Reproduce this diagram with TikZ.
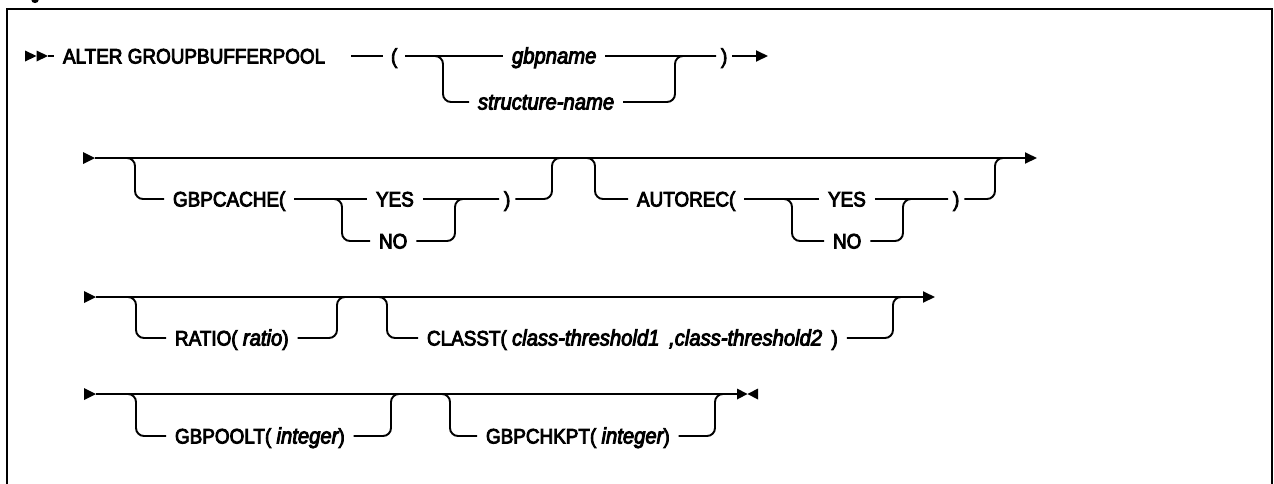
\documentclass[tikz,border=0pt]{standalone}
\usepackage{fontspec}
\setmainfont{Liberation Sans}
\newfontfamily\railfont[FakeBold=4,FakeStretch=0.9]{Liberation Sans}
\usetikzlibrary{arrows.meta}
\newcommand\itf{\fontsize{22.5}{24}\selectfont\itshape}
\begin{document}
\begin{tikzpicture}[x=1pt,y=-1pt,
  rail/.style={line width=1.9pt},
  branch/.style={rail, rounded corners=8pt},
  tip/.style={rail,-{Triangle[length=12pt,width=11pt]}},
  kw/.style={anchor=text, inner xsep=9pt, inner ysep=0pt, outer sep=0pt,
    text height=15pt, text depth=0pt, font=\railfont\fontsize{21}{23}\selectfont},
  it/.style={kw, font=\railfont\itf},
  paren/.style={kw, inner xsep=5pt},
  railmark/.style={fill=black}
]
\useasboundingbox (0,0) rectangle (1274,483);
% frame
\draw[line width=2.5pt] (7,495) -- (7,9) -- (1272,9) -- (1272,495);
\fill (35,0.5) ellipse (3.5 and 2.5);

% ---------- row 1 ----------
\fill[railmark] (25,50.5) -- (36.5,56) -- (25,61.5) -- cycle;
\fill[railmark] (36.5,50.5) -- (48,56) -- (36.5,61.5) -- cycle;
\coordinate (s1) at (48,56);
\node[kw] (alter) at (63,63.5) {ALTER GROUPBUFFERPOOL};
\node[kw, inner xsep=8pt] (lp) at (391,63.5) {(};
\node[it] (gbp) at (512,63.5) {gbpname};
\node[it] (sn) at (478,109.5) {structure-name};
\node[paren] (rp) at (721,63.5) {)};
\coordinate (e1) at (768,56);
\draw[rail] (s1) -- (alter.west);
\draw[rail] ([xshift=17pt]alter.east) -- (lp.west);
\draw[rail] (lp.east) -- (gbp.west);
\draw[branch] (lp.east) -- (443,56) -- (443,102) -- (sn.west);
\draw[rail] (gbp.east) -- (rp.west);
\draw[branch] (sn.east) -- (675,102) -- (675,56) -- (rp.west);
\draw[tip] (rp.east) -- (e1);

% ---------- row 2 ----------
\fill[railmark] (83,152) -- (95,158) -- (83,164) -- cycle;
\coordinate (s2) at (95,158);
\coordinate (e2) at (1037,158);
\draw[tip] (s2) -- (e2);
\node[kw] (gc) at (173,206.5) {GBPCACHE(};
\node[kw] (y1) at (376,206.5) {YES};
\node[kw] (n1) at (379,248.5) {NO};
\node[paren] (c1) at (504,206.5) {)};
\draw[branch] (127,158) -- (135,158) -- (135,199) -- (gc.west);
\draw[rail] (gc.east) -- (y1.west);
\draw[branch] (gc.east) -- (342,199) -- (342,241) -- (n1.west);
\draw[rail] (y1.east) -- (c1.west);
\draw[branch] (n1.east) -- (455,241) -- (455,199) -- (c1.west);
\draw[branch] (c1.east) -- (552,199) -- (552,158) -- (560,158);

\node[kw] (ar) at (637,206.5) {AUTOREC(};
\node[kw] (y2) at (828,206.5) {YES};
\node[kw] (n2) at (833,248.5) {NO};
\node[paren] (c2) at (953,206.5) {)};
\draw[branch] (587,158) -- (595,158) -- (595,199) -- (ar.west);
\draw[rail] (ar.east) -- (y2.west);
\draw[branch] (ar.east) -- (792,199) -- (792,241) -- (n2.west);
\draw[rail] (y2.east) -- (c2.west);
\draw[branch] (n2.east) -- (903,241) -- (903,199) -- (c2.west);
\draw[branch] (c2.east) -- (995,199) -- (995,158) -- (1003,158);

% ---------- row 3 ----------
\fill[railmark] (84,291) -- (96,297) -- (84,303) -- cycle;
\coordinate (s3) at (96,297);
\coordinate (e3) at (935,297);
\draw[tip] (s3) -- (e3);
\node[kw] (ra) at (175,345.5) {RATIO( {\itf ratio})};
\node[kw] (cl) at (427,345.5) {CLASST( {\itf class-threshold1\hspace{4pt} ,class-threshold2}\hspace{4pt} )};
\draw[branch] (128,297) -- (136,297) -- (136,338) -- (ra.west);
\draw[branch] (ra.east) -- (337,338) -- (337,297) -- (345,297);
\draw[branch] (379,297) -- (387,297) -- (387,338) -- (cl.west);
\draw[branch] (cl.east) -- (893,338) -- (893,297) -- (901,297);

% ---------- row 4 ----------
\fill[railmark] (84,388) -- (96,394) -- (84,400) -- cycle;
\coordinate (s4) at (96,394);
\coordinate (e4) at (737,394);
\draw[rail] (s4) -- (e4);
\fill[railmark] (737,388.5) -- (747.5,394) -- (737,399.5) -- cycle;
\fill[railmark] (758,388.5) -- (747.5,394) -- (758,399.5) -- cycle;
\node[kw] (gp) at (175,443.5) {GBPOOLT( {\itf integer})};
\node[kw] (gk) at (486,443.5) {GBPCHKPT( {\itf integer})};
\draw[branch] (128,394) -- (136,394) -- (136,436) -- (gp.west);
\draw[branch] (gp.east) -- (391,436) -- (391,394) -- (399,394);
\draw[branch] (442,394) -- (450,394) -- (450,436) -- (gk.west);
\draw[branch] (gk.east) -- (715,436) -- (715,394) -- (723,394);
\end{tikzpicture}
\end{document}
